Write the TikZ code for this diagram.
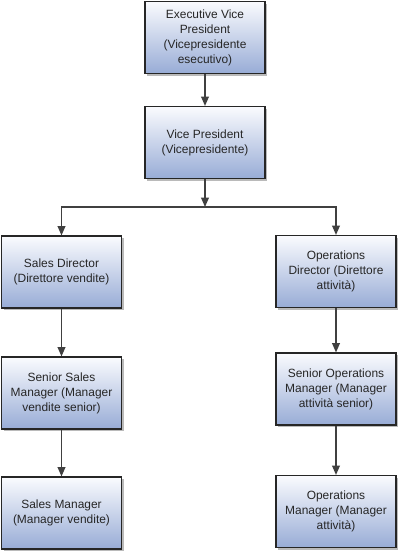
\documentclass[tikz,border=0pt]{standalone}
\usepackage{fontspec}
\setmainfont{Liberation Sans}
\usepackage{xcolor}
\usetikzlibrary{arrows.meta, positioning, shadows}
\definecolor{boxtop}{RGB}{250,251,254}
\definecolor{boxbot}{RGB}{152,172,214}
\definecolor{linegray}{RGB}{64,64,64}

\begin{document}
\begin{tikzpicture}[x=0.03cm, y=-0.03cm, font=\fontsize{10.2}{12.8}\selectfont,
    box/.style={draw=black!85, line width=0.9pt, top color=boxtop, bottom color=boxbot,
      minimum width=3.6cm, minimum height=2.16cm, align=center, text=black!85,
      drop shadow={shadow xshift=0.07cm, shadow yshift=-0.07cm, fill=black!45, opacity=0.6}},
    arr/.style={-{Triangle[length=2.8mm, width=2.3mm]}, linegray, line width=1.3pt}]
    \useasboundingbox (0,0) rectangle (400,554);
    \node[box] (evp) at (205,37.5) {Executive Vice\\President\\(Vicepresidente\\esecutivo)};
    \node[box] (vp) at (205,142.5) {Vice President\\(Vicepresidente)};
    \node[box] (sd) at (61.5,272) {Sales Director\\(Direttore vendite)};
    \node[box] (od) at (336,271.5) {Operations\\Director (Direttore\\attività)};
    \node[box] (ssm) at (61.5,393) {Senior Sales\\Manager (Manager\\vendite senior)};
    \node[box] (som) at (336,389) {Senior Operations\\Manager (Manager\\attività senior)};
    \node[box] (sm) at (61.5,513) {Sales Manager\\(Manager vendite)};
    \node[box] (om) at (336,511.5) {Operations\\Manager (Manager\\attività)};
    \coordinate (j) at (205,207);
    \draw[arr] (evp) -- (vp);
    \draw[arr] (vp) -- (j);
    \draw[arr] (j) -| (sd.north); \draw[arr] (j) -| (od.north);
    \draw[arr] (sd) -- (ssm); \draw[arr] (ssm) -- (sm);
    \draw[arr] (od) -- (som); \draw[arr] (som) -- (om);
  \end{tikzpicture}
\end{document}
